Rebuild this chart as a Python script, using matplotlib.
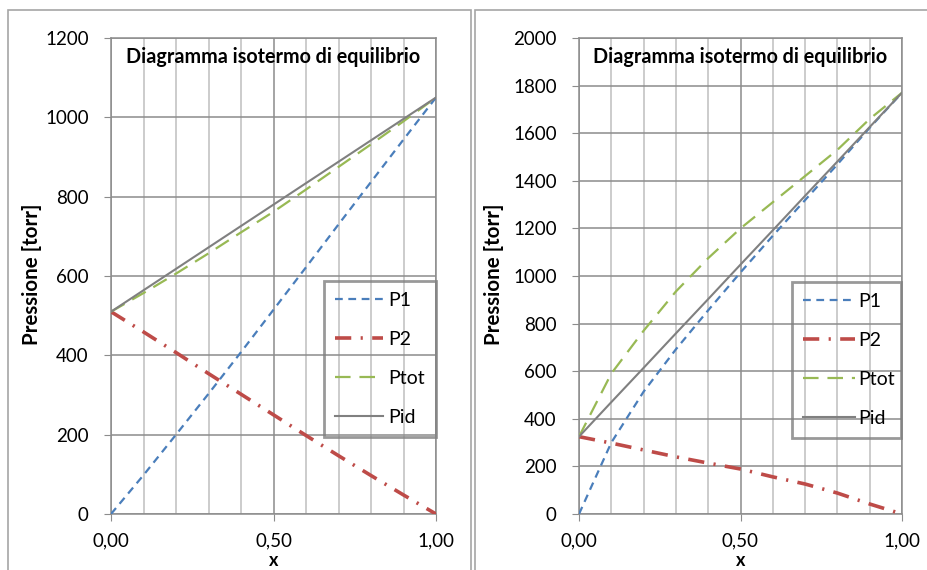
import matplotlib
matplotlib.use("Agg")
import matplotlib.pyplot as plt
from matplotlib.patches import Rectangle
from matplotlib.ticker import MultipleLocator, FixedLocator, FuncFormatter

plt.rcParams['font.family'] = ['Lato', 'DejaVu Sans']

# ---- data ----
x = [0.0, 0.1, 0.2, 0.3, 0.4, 0.5, 0.6, 0.7, 0.8, 0.9, 1.0]

# left chart (negative deviation)
p1_left = [0, 98, 200, 303, 408, 515, 622, 730, 837, 944, 1050]
p2_left = [510, 459, 407, 354, 302, 250, 198, 147, 97, 48, 0]
ptot_left = [510, 557, 606, 657, 710, 762, 818, 875, 932, 990, 1050]
pid_left = [510, 564, 618, 672, 726, 780, 834, 888, 942, 996, 1050]

# right chart (positive deviation)
p1_right = [0, 300, 514, 692, 856, 1015, 1169, 1319, 1469, 1623, 1770]
p2_right = [325, 298, 269, 240, 214, 189, 156, 126, 88, 42, 0]
ptot_right = [325, 590, 770, 935, 1075, 1200, 1310, 1420, 1530, 1660, 1770]
pid_right = [325, 470, 614, 759, 903, 1048, 1192, 1337, 1481, 1626, 1770]

title = "Diagramma isotermo di equilibrio"
ylabel = "Pressione [torr]"
xlabel = "x"
labels = ["P1", "P2", "Ptot", "Pid"]

colors = ["#4A7EBB", "#BE4B48", "#98B954", "#808080"]

fig = plt.figure(figsize=(9.27, 5.70), dpi=100)

W, H = 927, 570

# panel borders
for (x0, x1) in [(8, 471), (475, 930)]:
    fig.patches.append(Rectangle((x0 / W, -0.05), (x1 - x0) / W, 1.05 - 10 / H,
                                 transform=fig.transFigure, fill=False,
                                 edgecolor="#A6A6A6", lw=1.2, zorder=0))


def make(ax_rect, data, ymax, ystep, leg_box, ylab_x, handle_len, text_pad):
    ax = fig.add_axes(ax_rect)
    p1, p2, ptot, pid = data
    l1, = ax.plot(x, p1, color=colors[0], lw=1.6, dashes=(3.5, 2.5), zorder=3)
    l2, = ax.plot(x, p2, color=colors[1], lw=2.6, dashes=(4.5, 2.6, 0.6, 2.6), zorder=3)
    l3, = ax.plot(x, ptot, color=colors[2], lw=1.6, dashes=(7, 4), zorder=3)
    l4, = ax.plot(x, pid, color=colors[3], lw=1.5, zorder=3)
    lines = [l1, l2, l3, l4]
    ax.set_xlim(0, 1)
    ax.set_ylim(0, ymax)
    ax.xaxis.set_major_locator(FixedLocator([0, 0.5, 1.0]))
    ax.xaxis.set_minor_locator(MultipleLocator(0.1))
    ax.yaxis.set_major_locator(MultipleLocator(ystep))
    ax.xaxis.set_major_formatter(FuncFormatter(lambda v, p: f"{v:.2f}".replace(".", ",")))
    ax.yaxis.set_major_formatter(FuncFormatter(lambda v, p: f"{int(round(v))}"))
    ax.grid(True, which="minor", axis="x", color="#C8C8C8", lw=1.3, zorder=1)
    ax.grid(True, which="major", axis="x", color="#8C8C8C", lw=1.1, zorder=1)
    ax.grid(True, which="major", axis="y", color="#8C8C8C", lw=1.1, zorder=1)
    for s in ax.spines.values():
        s.set_color("#8C8C8C")
        s.set_linewidth(1.1)
    ax.tick_params(axis="both", which="major", length=5, color="#8C8C8C",
                   labelsize=13.5, labelcolor="#000000")
    ax.tick_params(axis="y", which="major", pad=11)
    ax.tick_params(axis="x", which="major", pad=8)
    ax.tick_params(axis="x", which="minor", length=0)
    ax.set_axisbelow(True)
    ax.text(0.5, 0.96, title, transform=ax.transAxes, ha="center", va="center",
            fontsize=14.2, fontweight="bold", color="#000000")
    # axis labels placed in figure pixels
    fig.text(ylab_x / W, 1 - 274 / H, ylabel, rotation=90, ha="center", va="center",
             fontsize=14.8, fontweight="bold")
    cx = ax_rect[0] + ax_rect[2] / 2
    fig.text(cx, 1 - 566 / H, xlabel, ha="center", va="baseline",
             fontsize=13, fontweight="bold")
    leg = ax.legend(lines, labels, loc="upper left", bbox_to_anchor=leg_box,
                    mode="expand", fontsize=14, frameon=True, fancybox=False,
                    handlelength=handle_len, handletextpad=text_pad, labelspacing=1.14,
                    borderpad=0.55, borderaxespad=0)
    leg.get_frame().set_facecolor("none")
    leg.get_frame().set_edgecolor("#808080")
    leg.get_frame().set_linewidth(2)
    return ax, leg


ax1, leg1 = make([111 / W, 1 - 514 / H, 325 / W, 476 / H],
                 (p1_left, p2_left, ptot_left, pid_left), 1200, 200,
                 ((324 - 111) / 325, (514 - 435) / 476, (436 - 324) / 325, 154 / 476),
                 32, 2.5, 0.25)
ax2, leg2 = make([579 / W, 1 - 514 / H, 323 / W, 476 / H],
                 (p1_right, p2_right, ptot_right, pid_right), 2000, 200,
                 ((792 - 579) / 323, (514 - 435) / 476, (901 - 792) / 323, 153 / 476),
                 494, 2.7, 0.15)

fig.savefig("out.png", dpi=100)
